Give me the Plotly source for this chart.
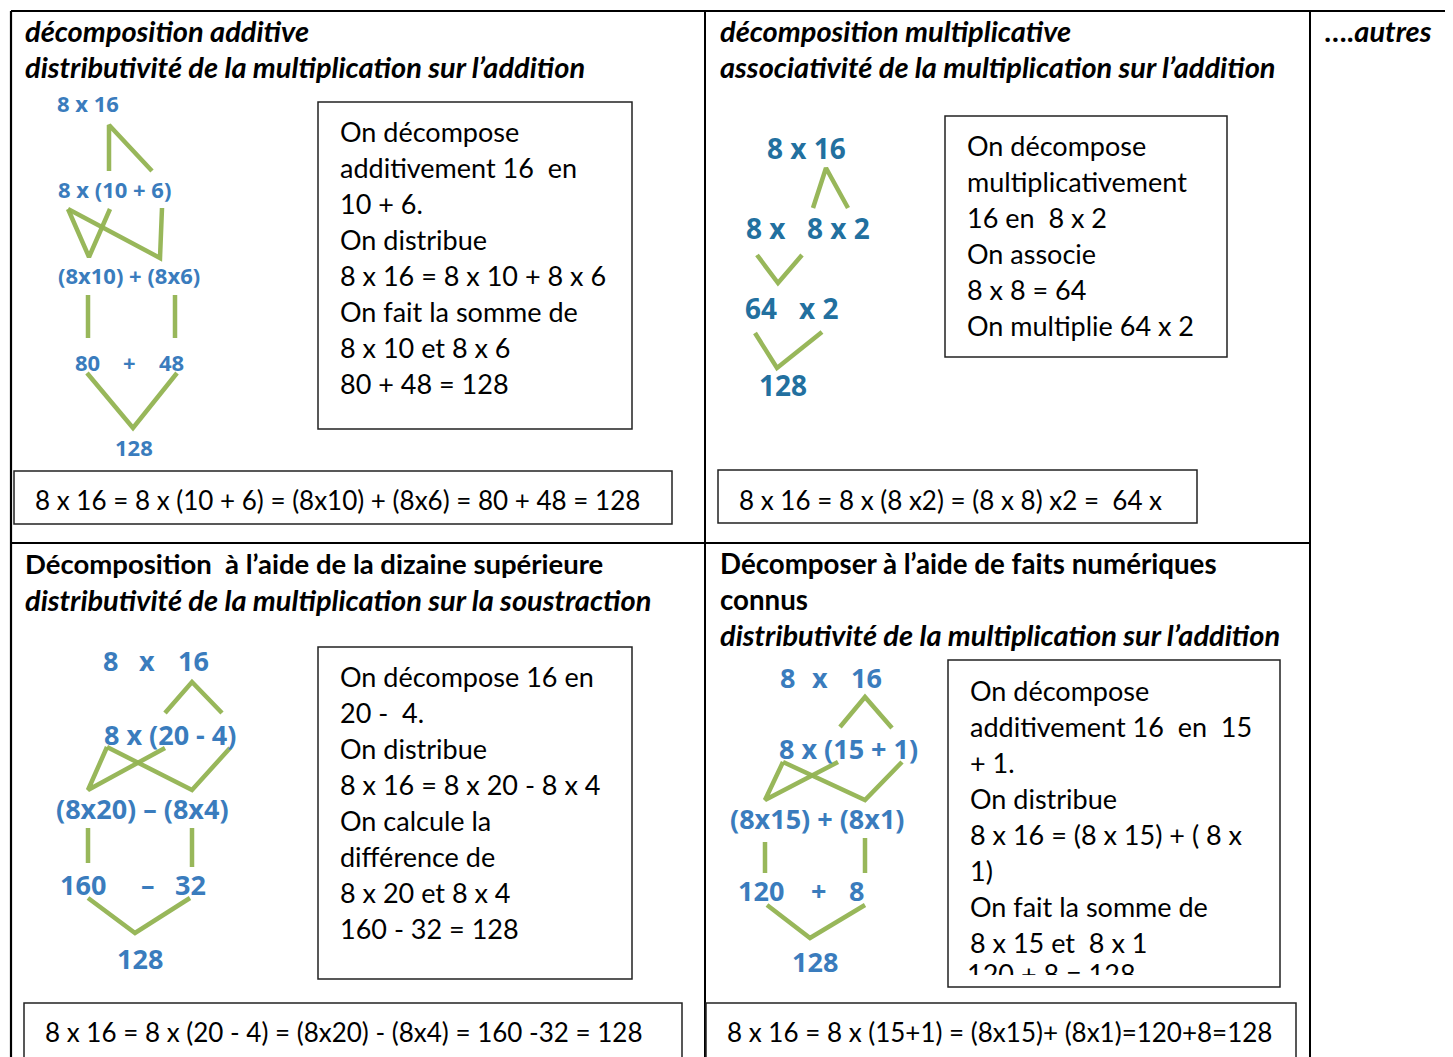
import plotly.graph_objects as go

W, H = 1453, 1057
OFF = 8  # page body margin of the exported html
FONT = "Lato"
BLACK = "#000000"
BLUE = "#3a7cbd"
BLUE2 = "#22709f"
GREEN = "#93b452"

# ---------------- texts ----------------
header_texts = [
    "<b><i>décomposition additive</i></b>",
    "<b><i>distributivité de la multiplication sur l’addition</i></b>",
    "<b><i>décomposition multiplicative</i></b>",
    "<b><i>associativité de la multiplication sur l’addition</i></b>",
    "<b><i>….autres</i></b>",
    "<b>Décomposition  à l’aide de la dizaine supérieure</b>",
    "<b><i>distributivité de la multiplication sur la soustraction</i></b>",
    "<b>Décomposer à l’aide de faits numériques</b>",
    "<b>connus</b>",
    "<b><i>distributivité de la multiplication sur l’addition</i></b>",
]
header_pos = [(24, 30), (24, 66), (719, 30), (719, 66), (1324, 30),
              (24, 563), (24, 599), (719, 563), (719, 599), (719, 634)]
header_size = [29, 29, 29, 29, 29, 27.5, 29, 27.7, 27.7, 29]

box1_lines = ["On décompose", "additivement 16  en", "10 + 6.", "On distribue",
              "8 x 16 = 8 x 10 + 8 x 6", "On fait la somme de", "8 x 10 et 8 x 6",
              "80 + 48 = 128"]
box2_lines = ["On décompose", "multiplicativement", "16 en  8 x 2", "On associe",
              "8 x 8 = 64", "On multiplie 64 x 2"]
box3_lines = ["On décompose 16 en", "20 -  4.", "On distribue", "8 x 16 = 8 x 20 - 8 x 4",
              "On calcule la", "différence de", "8 x 20 et 8 x 4", "160 - 32 = 128"]
box4_lines = ["On décompose", "additivement 16  en  15", "+ 1.", "On distribue",
              "8 x 16 = (8 x 15) + ( 8 x", "1)", "On fait la somme de", "8 x 15 et  8 x 1"]
box4_clipped = "120 + 8 = 128"

formulas = ["8 x 16 = 8 x (10 + 6) = (8x10) + (8x6) = 80 + 48 = 128",
            "8 x 16 = 8 x (8 x2) = (8 x 8) x2 =  64 x",
            "8 x 16 = 8 x (20 - 4) = (8x20) - (8x4) = 160 -32 = 128",
            "8 x 16 = 8 x (15+1) = (8x15)+ (8x1)=120+8=128"]

# diagram labels: (text, x_center, y)
diag1 = [("8 x 16", 88, 103), ("8 x (10 + 6)", 114, 189), ("(8x10) + (8x6)", 129, 275),
         ("80", 87, 362), ("+", 129, 362), ("48", 171, 362), ("128", 134, 447)]
diag2 = [("8 x 16", 806, 148), ("8 x", 766, 228), ("8 x 2", 838, 228),
         ("64", 761, 308), ("x 2", 818, 308), ("128", 783, 385)]
diag3 = [("8", 110, 660), ("x", 147, 660), ("16", 193, 660), ("8 x (20 - 4)", 170, 734),
         ("(8x20) – (8x4)", 142, 808), ("160", 83, 884), ("–", 148, 884), ("32", 190, 884),
         ("128", 140, 958)]
diag4 = [("8", 787, 677), ("x", 820, 677), ("16", 866, 677), ("8 x (15 + 1)", 848, 748),
         ("(8x15) + (8x1)", 817, 818), ("120", 761, 890), ("+", 818, 890), ("8", 856, 890),
         ("128", 815, 961)]

# green connector polylines
links1 = [[(109, 171), (109, 125), (152, 171)],
          [(68, 209), (89, 257), (110, 209)],
          [(68, 209), (160, 258), (162, 208)],
          [(88, 295), (88, 338)], [(175, 295), (175, 338)],
          [(87, 373), (133, 428), (177, 373)]]
links2 = [[(813, 208), (826, 168), (848, 208)],
          [(757, 255), (778, 283), (802, 255)],
          [(755, 333), (777, 368), (822, 332)]]
links3 = [[(165, 713), (192, 682), (222, 713)],
          [(107, 747), (88, 790), (165, 748)],
          [(107, 747), (192, 790), (230, 748)],
          [(88, 828), (88, 863)], [(192, 828), (192, 867)],
          [(88, 898), (135, 933), (190, 898)]]
links4 = [[(840, 727), (865, 697), (892, 728)],
          [(783, 762), (765, 800), (838, 762)],
          [(783, 762), (865, 800), (902, 762)],
          [(765, 842), (765, 873)], [(865, 838), (865, 873)],
          [(767, 905), (810, 938), (865, 905)]]

# ---------------- layout geometry ----------------
text_boxes = [(318, 102, 632, 429, 338, 131, box1_lines),
              (945, 116, 1227, 357, 965, 145, box2_lines),
              (318, 647, 632, 979, 338, 676, box3_lines),
              (948, 660, 1280, 987, 968, 690, box4_lines)]
formula_boxes = [(14, 471, 672, 524, 33, 500),
                 (718, 470, 1197, 523, 737, 500),
                 (24, 1003, 682, 1070, 43, 1032),
                 (706, 1003, 1296, 1070, 725, 1032)]
LINE_STEP = 36

fig = go.Figure()
shapes = []
ann = []

# table grid
grid = [((11, 11), (1460, 11), 2.2), ((11, 11), (11, 1060), 2.2),
        ((705, 11), (705, 1060), 2), ((1310, 11), (1310, 1060), 2),
        ((11, 543), (1310, 543), 2)]
for (x0, y0), (x1, y1), w in grid:
    shapes.append(dict(type="line", x0=x0, y0=y0, x1=x1, y1=y1, xref="x", yref="y",
                       line=dict(color=BLACK, width=w)))

for t, (x, y), s in zip(header_texts, header_pos, header_size):
    ann.append(dict(x=x - 1, y=y, text=t, showarrow=False, xanchor="left", yanchor="middle",
                    font=dict(family=FONT, size=s, color=BLACK), xref="x", yref="y"))

for (x0, y0, x1, y1, tx, ty, lines) in text_boxes:
    shapes.append(dict(type="rect", x0=x0, y0=y0, x1=x1, y1=y1, xref="x", yref="y",
                       line=dict(color="#222222", width=1.5)))
    for i, l in enumerate(lines):
        ann.append(dict(x=tx, y=ty + i * LINE_STEP, text=l, showarrow=False, xanchor="left",
                        yanchor="middle", font=dict(family=FONT, size=27, color=BLACK),
                        xref="x", yref="y"))

for (x0, y0, x1, y1, tx, ty), f in zip(formula_boxes, formulas):
    shapes.append(dict(type="rect", x0=x0, y0=y0, x1=x1, y1=y1, xref="x", yref="y",
                       line=dict(color="#222222", width=1.5)))
    ann.append(dict(x=tx, y=ty, text=f, showarrow=False, xanchor="left", yanchor="middle",
                    font=dict(family=FONT, size=26, color=BLACK), xref="x", yref="y"))

for links in (links1, links2, links3, links4):
    for pl in links:
        fig.add_trace(go.Scatter(x=[p[0] for p in pl], y=[p[1] for p in pl], mode="lines",
                                 line=dict(color=GREEN, width=4.5), opacity=0.95,
                                 hoverinfo="skip", showlegend=False))

for diag, col, size in ((diag1, BLUE, 22), (diag2, BLUE2, 28), (diag3, BLUE, 27), (diag4, BLUE, 27)):
    for t, x, y in diag:
        ann.append(dict(x=x, y=y, text="<b>" + t + "</b>", showarrow=False, xanchor="center",
                        yanchor="middle", font=dict(family="Open Sans", size=size, color=col),
                        xref="x", yref="y"))

# clipped last line inside box 4
bx0, by0, bx1, by1 = 949, 661, 1279, 975
fig.add_trace(go.Scatter(x=[967], y=[977], mode="text", text=[box4_clipped],
                         textposition="middle right", cliponaxis=True,
                         textfont=dict(family=FONT, size=27, color=BLACK),
                         xaxis="x2", yaxis="y2", hoverinfo="skip", showlegend=False))

FW, FH = W - OFF, H - OFF
fig.update_layout(
    width=FW, height=FH, margin=dict(l=0, r=0, t=0, b=0),
    paper_bgcolor="white", plot_bgcolor="white",
    xaxis=dict(range=[OFF, W], visible=False, fixedrange=True),
    yaxis=dict(range=[H, OFF], visible=False, fixedrange=True),
    xaxis2=dict(range=[bx0, bx1], domain=[(bx0 - OFF) / FW, (bx1 - OFF) / FW],
                visible=False, anchor="y2"),
    yaxis2=dict(range=[by1, by0], domain=[1 - (by1 - OFF) / FH, 1 - (by0 - OFF) / FH],
                visible=False, anchor="x2"),
    shapes=shapes, annotations=ann,
)
fig.write_html("out.html")
